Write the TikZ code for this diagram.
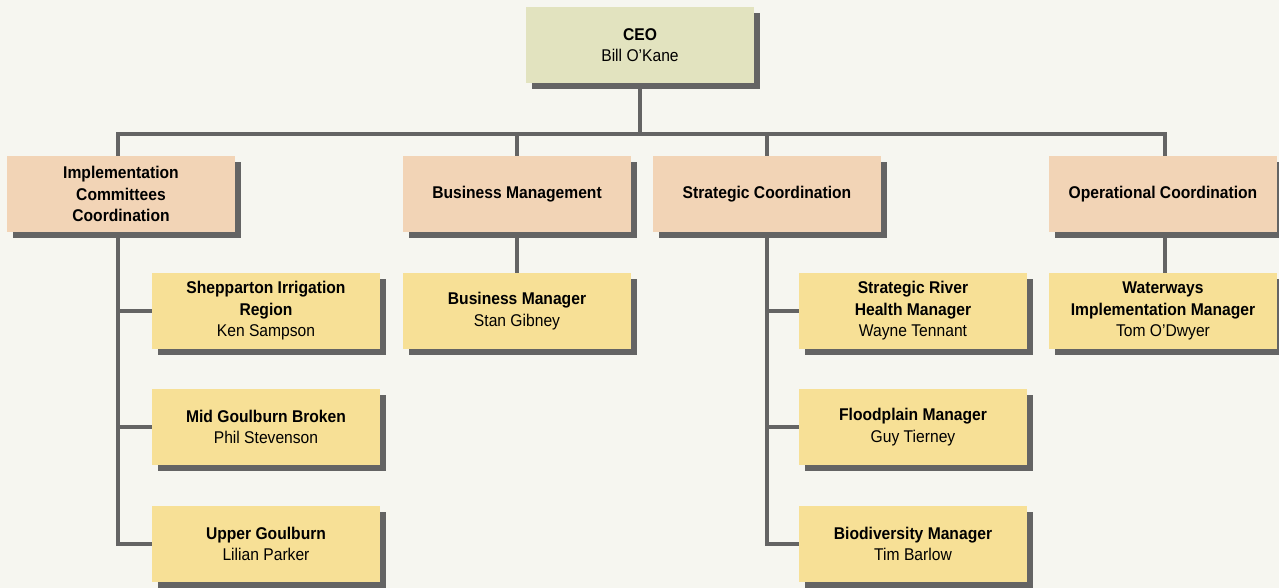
\documentclass[tikz,border=0pt]{standalone}
\usepackage{fontspec}
\setmainfont{Liberation Sans}[FakeStretch=0.92]
\usetikzlibrary{shadows}
\definecolor{bgc}{HTML}{F6F6F0}
\definecolor{ceoc}{HTML}{E2E3BF}
\definecolor{topc}{HTML}{F2D4B6}
\definecolor{subc}{HTML}{F7E096}
\definecolor{linec}{HTML}{646464}
\tikzset{
  box/.style={minimum width=228pt, minimum height=76pt, inner sep=2pt, align=center,
    font=\fontsize{17}{21.5}\selectfont, text=black,
    drop shadow={shadow xshift=6pt, shadow yshift=-6pt, fill=linec, opacity=1}},
  ceobox/.style={box, fill=ceoc},
  topbox/.style={box, fill=topc},
  subbox/.style={box, fill=subc},
  conn/.style={draw=linec, line width=4.5pt}
}
\begin{document}
\begin{tikzpicture}[x=1pt,y=-1pt]
\useasboundingbox (0,0) rectangle (1279,588);
\fill[bgc] (0,0) rectangle (1279,588);
\node[ceobox] (ceo) at (640,45) {\textbf{CEO}\\Bill O’Kane};
\node[topbox] (imp) at (121,194) {\textbf{Implementation}\\\textbf{Committees}\\\textbf{Coordination}};
\node[topbox] (bus) at (517,194) {\textbf{Business Management}};
\node[topbox] (str) at (767,194) {\textbf{Strategic Coordination}};
\node[topbox] (ope) at (1163,194) {\textbf{Operational Coordination}};
\node[subbox] (shep) at (266,311) {\textbf{Shepparton Irrigation}\\\textbf{Region}\\Ken Sampson};
\node[subbox] (mid) at (266,427) {\textbf{Mid Goulburn Broken}\\Phil Stevenson};
\node[subbox] (upp) at (266,544) {\textbf{Upper Goulburn}\\Lilian Parker};
\node[subbox] (busm) at (517,311) {\textbf{Business Manager}\\Stan Gibney};
\node[subbox] (srh) at (913,311) {\textbf{Strategic River}\\\textbf{Health Manager}\\Wayne Tennant};
\node[subbox] (flood) at (913,427) {\textbf{Floodplain Manager}\\Guy Tierney};
\node[subbox] (bio) at (913,544) {\textbf{Biodiversity Manager}\\Tim Barlow};
\node[subbox] (water) at (1163,311) {\textbf{Waterways}\\\textbf{Implementation Manager}\\Tom O’Dwyer};
\coordinate (bar) at (640,134);
\coordinate (impT) at ([xshift=-3pt]imp.north);
\coordinate (impB) at ([xshift=-3pt]imp.south);
\coordinate (opeT) at ([xshift=2pt]ope.north);
\coordinate (opeB) at ([xshift=2pt]ope.south);
\draw[conn] (impT) -- (impT |- bar) -- (opeT |- bar) -- (opeT);
\draw[conn] (ceo.south) -- (ceo.south |- bar);
\draw[conn] (bus.north) -- (bus.north |- bar);
\draw[conn] (str.north) -- (str.north |- bar);
\draw[conn] (impB) -- (impB |- upp.west) -- (upp.west);
\draw[conn] (impB |- shep.west) -- (shep.west);
\draw[conn] (impB |- mid.west) -- (mid.west);
\draw[conn] (str.south) -- (str.south |- bio.west) -- (bio.west);
\draw[conn] (str.south |- srh.west) -- (srh.west);
\draw[conn] (str.south |- flood.west) -- (flood.west);
\draw[conn] (bus.south) -- (busm.north);
\draw[conn] (opeB) -- (opeB |- water.north);
\end{tikzpicture}
\end{document}
